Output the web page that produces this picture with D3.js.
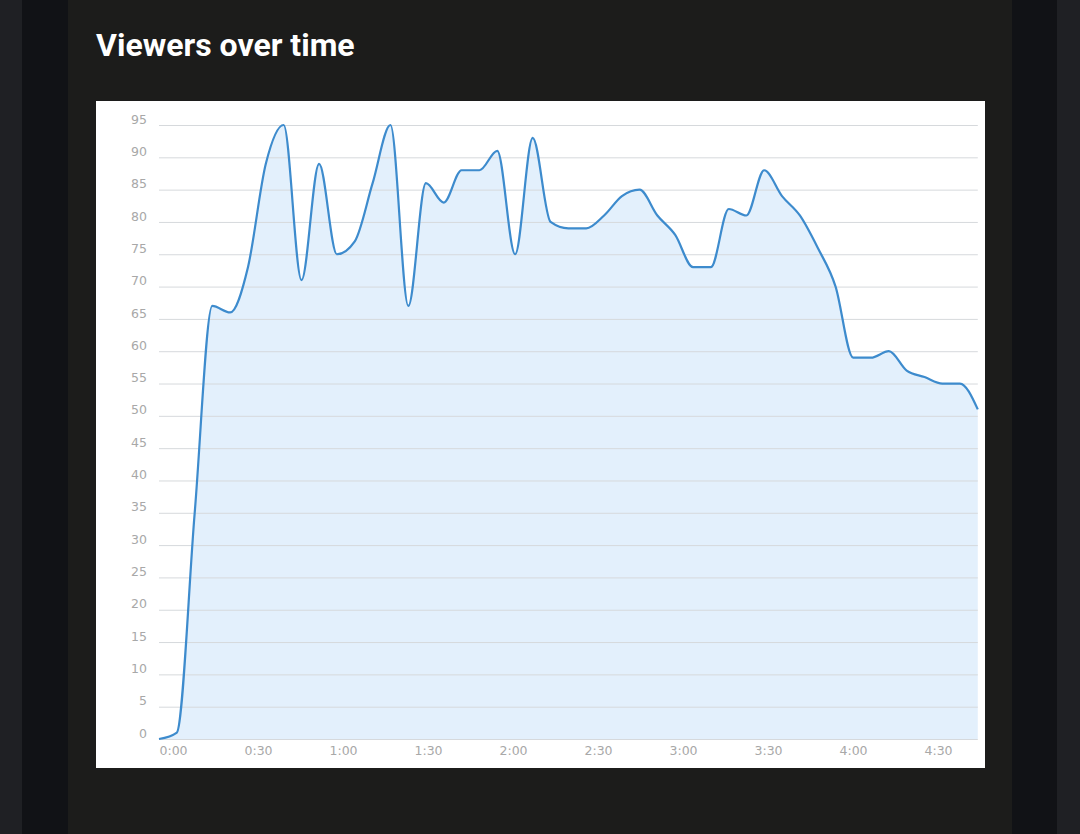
<!DOCTYPE html>
<html lang="en">
<head>
    <meta charset="UTF-8">
    <title>Viewers over time</title>
    <script src="https://d3js.org/d3.v7.min.js"></script>
    <style>
        body {
            margin: 0;
            padding: 0;
            background: #1f2024;
            width: 1080px;
            height: 834px;
            overflow: hidden;
        }

        .grid line {
            stroke: #d6d9dc;
            stroke-width: 1;
        }

        .axis text {
            fill: #a8a8a8;
            font-family: "DejaVu Sans", sans-serif;
            font-size: 12.5px;
        }
    </style>
</head>
<body>
    <svg id="chart"></svg>

    <script>
        // 数据：时间（分钟）与观众数
        const minutes = [0, 6.3, 12.6, 18.8, 25.1, 31.4, 37.7, 44.0, 50.3, 56.5,
            62.8, 69.1, 75.4, 81.7, 88.0, 94.2, 100.5, 106.8, 113.1, 119.4,
            125.7, 131.9, 138.2, 144.5, 150.8, 157.1, 163.4, 169.6, 175.9, 182.2,
            188.5, 194.8, 201.1, 207.3, 213.6, 219.9, 226.2, 232.5, 238.8, 245.0,
            251.3, 257.6, 263.9, 270.2, 276.5, 282.7, 289.0];
        const viewers = [0, 1, 35, 67, 66, 73, 89, 95, 71, 89,
            75, 77, 86, 95, 67, 86, 83, 88, 88, 91,
            75, 93, 80, 79, 79, 81, 84, 85, 81, 78,
            73, 73, 82, 81, 88, 84, 81, 76, 70, 59,
            59, 60, 57, 56, 55, 55, 51];

        // 坐标轴刻度
        const xTickMinutes = [0, 30, 60, 90, 120, 150, 180, 210, 240, 270];
        const xTickLabels = ["0:00", "0:30", "1:00", "1:30", "2:00", "2:30", "3:00", "3:30", "4:00", "4:30"];
        const yTicks = [0, 5, 10, 15, 20, 25, 30, 35, 40, 45, 50, 55, 60, 65, 70, 75, 80, 85, 90, 95];

        const data = minutes.map((m, i) => ({ m: m, v: viewers[i] }));

        const W = 1080, H = 834;
        const svg = d3.select("#chart")
            .attr("width", W)
            .attr("height", H);

        // 背景条纹
        svg.append("rect").attr("x", 22).attr("y", 0).attr("width", 1035).attr("height", H).attr("fill", "#111216");
        svg.append("rect").attr("x", 68).attr("y", 0).attr("width", 944).attr("height", H).attr("fill", "#1c1c1b");

        // 标题
        svg.append("text")
            .attr("x", 96)
            .attr("y", 56)
            .attr("fill", "#ffffff")
            .style("font-family", "Roboto, Inter, sans-serif")
            .style("font-weight", "bold")
            .style("font-size", "32px")
            .text("Viewers over time");

        // 白色图表框
        svg.append("rect")
            .attr("x", 96).attr("y", 101)
            .attr("width", 889).attr("height", 667)
            .attr("fill", "#ffffff");

        const xScale = d3.scaleLinear().domain([0, 289]).range([159, 977.8]);
        const yScale = d3.scaleLinear().domain([0, 95]).range([739, 125]);

        // 面积
        const area = d3.area()
            .x(d => xScale(d.m))
            .y0(yScale(0))
            .y1(d => yScale(d.v))
            .curve(d3.curveMonotoneX);

        svg.append("path")
            .datum(data)
            .attr("fill", "rgba(60, 150, 235, 0.14)")
            .attr("d", area);

        // 网格线（画在面积上面）
        svg.append("g")
            .attr("class", "grid")
            .attr("transform", `translate(${xScale(0)}, 0)`)
            .call(d3.axisLeft(yScale).tickValues(yTicks).tickSize(-(977.8 - 159)).tickFormat(""))
            .call(g => g.select(".domain").remove());

        // y 轴
        svg.append("g")
            .attr("class", "axis y-axis")
            .attr("transform", "translate(147, 0)")
            .call(d3.axisLeft(yScale).tickValues(yTicks).tickSize(0).tickPadding(0))
            .call(g => g.select(".domain").remove())
            .selectAll("text")
            .attr("dy", "-0.15em");

        // x 轴
        svg.append("g")
            .attr("class", "axis x-axis")
            .attr("transform", "translate(0, 739)")
            .call(d3.axisBottom(xScale).tickValues(xTickMinutes).tickSize(0).tickPadding(0)
                .tickFormat((d, i) => xTickLabels[i]))
            .call(g => g.select(".domain").remove())
            .selectAll("text")
            .style("text-anchor", "start")
            .attr("y", 7)
            .attr("dy", "0.71em");

        // 折线
        const line = d3.line()
            .x(d => xScale(d.m))
            .y(d => yScale(d.v))
            .curve(d3.curveMonotoneX);

        svg.append("path")
            .datum(data)
            .attr("fill", "none")
            .attr("stroke", "#3d8bcd")
            .attr("stroke-width", 2.2)
            .attr("stroke-linejoin", "round")
            .attr("d", line);
    </script>
</body>
</html>
